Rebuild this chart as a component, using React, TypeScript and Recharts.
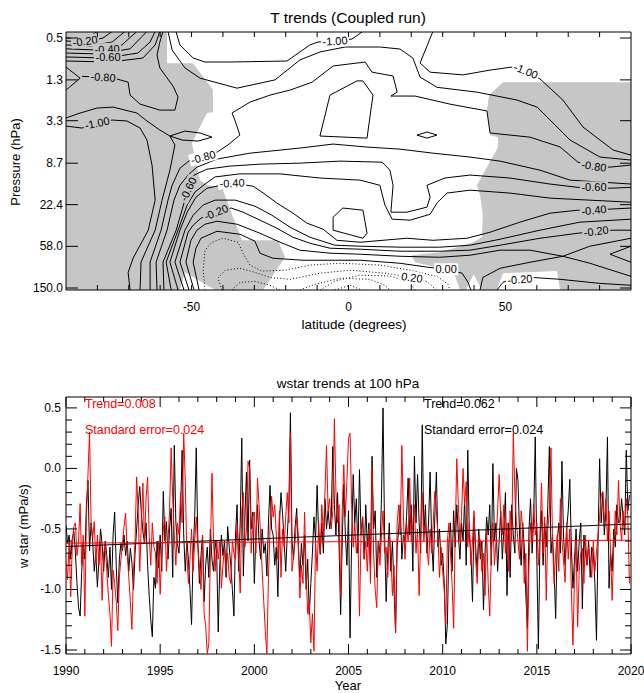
import React from 'react';
import { ComposedChart, Line, Area, Scatter, XAxis, YAxis, ReferenceArea } from 'recharts';

const FONT = '"Liberation Sans", Arial, Helvetica, sans-serif';
const GRAY = '#c6c6c6';
const WHITE = '#ffffff';
const RED = '#ff0000';

// ---------- top panel: T trends, latitude vs pressure ----------
const latTicks = [-80, -70, -60, -50, -40, -30, -20, -10, 0, 10, 20, 30, 40, 50, 60, 70, 80];
const latLabelled = [-50, 0, 50];
const pressureTicks = [0.5, 1.3, 3.3, 8.7, 22.4, 58.0, 150.0];
const P_TOP = 0.436;
const P_BOTTOM = 157;

// shaded (non significant) regions, [lat, hPa]
const grayLeft = [[-90,157],[-90,0.43],[-57.8,0.43],[-57.8,0.89],[-49.5,0.89],[-43.2,1.63],[-43.2,2.72],[-45.1,2.77],[-49.9,5.5],[-47.3,12.8],[-44.8,14.4],[-40.3,15.1],[-36.8,29.8],[-33.9,50.5],[-22.5,50.5],[-20.2,74.4],[-27.2,157],[-42.5,157],[-52.1,105],[-53.7,157]];
const grayRight = [[90,157],[90,1.37],[49.2,1.37],[44.8,1.84],[44.1,2.59],[45.1,4.59],[47.6,4.8],[47.6,6.03],[44.1,9.52],[40.9,14.4],[41.9,17.9],[42.8,28.5],[42.5,47.1],[39.7,52.8],[34.6,59.1],[29.1,66.3],[20.2,71],[21.2,83.4],[29.1,95.6],[33.9,112],[35.5,157],[37.4,157],[39.9,109.5],[42.5,157],[47.3,157],[49.2,107],[66.4,102],[67.4,157]];

// solid contours (negative and zero), [lat, hPa]
const arcA1 = [[-90,0.5],[-85.5,0.5],[-81.7,0.467],[-80.1,0.43]];
const arcA2 = [[-90,0.535],[-83.9,0.548],[-78.2,0.5],[-75.3,0.43]];
const arcA3 = [[-90,0.586],[-82.3,0.6],[-75.3,0.548],[-71.2,0.43]];
const arcA4 = [[-90,0.64],[-80.8,0.657],[-72.2,0.586],[-67.4,0.43]];
const arcA5 = [[-90,0.705],[-79.2,0.72],[-69.6,0.64],[-64.2,0.43]];
const arcA6 = [[-90,0.77],[-77.6,0.79],[-67.1,0.705],[-63.2,0.548],[-61.6,0.43]];
const arcA7 = [[-90,0.845],[-76,0.865],[-65.5,0.79],[-61.6,0.586],[-60.1,0.43]];
const wedge = [[-90,0.97],[-85.5,1.25],[-90,1.64]];
const loop080 = [[-84.9,1.2],[-78.2,1.22],[-74.7,1.25],[-70.2,1.37],[-69.6,1.84],[-66.4,2.26],[-60.1,2.59],[-55.3,2.59],[-54.3,1.92],[-55.9,1.5],[-60.1,0.99],[-61,0.737],[-60.1,0.548],[-59.1,0.43]];
const line100a = [[-90,3.1],[-85.5,2.77],[-80.1,2.47],[-75,2.42],[-67.4,2.77],[-64.2,3.32],[-60.1,4.08],[-56.9,4.68],[-55.3,5.74],[-56.9,10.2],[-59.4,20.2],[-61.6,40.1],[-66.1,83],[-66.4,157]];
const line100b = [[-90,3.73],[-84.9,3.9],[-80.1,3.48],[-75.3,3.25],[-70.6,3.32],[-66.4,3.9],[-64.2,5.13],[-62.6,9.07],[-61.6,20.2],[-63.8,40.1],[-68.6,75.7],[-70.2,105],[-69.6,157]];
const lens1 = [[-56.9,4.68],[-52.1,4.18],[-47.3,4.37],[-43.5,4.8],[-47.9,5.25],[-53,5.13],[-56.9,4.68]];
const line080 = [[-63.2,157],[-63.2,83],[-59.7,40.1],[-57.5,20.2],[-56.2,14.4],[-53.7,9.74],[-50.5,8.1],[-46.3,7.56],[-41.9,6.76],[-38.4,5.74],[-34.6,4.58],[-36.2,3.25],[-37.1,2.77],[-31.4,2.16],[-25,1.84],[-18.6,1.64],[-11.6,1.37],[-4.9,0.947],[5.3,0.865],[7.5,1.09],[14.2,1.19],[15.5,1.72],[13.5,1.88],[21.2,1.88],[32.3,2.26],[44.1,2.64],[45.1,4.37],[57.8,4.8],[67.4,6.0],[73.1,8.5],[78.2,9.3],[83.3,9.52],[90,9.07]];
const line070 = [[-61,157],[-61.3,83],[-57.8,40.1],[-55.6,20.2],[-53.7,14.4],[-51.1,11.4],[-48.3,9.52],[-41.9,7.92],[-31.4,6.92],[-15.5,6.16],[-4.9,5.62],[5.9,6.02],[16.4,6.31],[26.9,6.92],[38.7,7.56],[48.3,8.3],[61,10.2],[70.6,12.8],[90,14.0]];
const line060 = [[-58.8,157],[-59.1,83],[-54.9,40.1],[-52.4,21.6],[-51.1,15.7],[-49.2,11.4],[-45.1,9.97],[-37.8,9.3],[-28.2,8.89],[-15.5,8.69],[-2.7,8.3],[10.7,8.5],[13.2,10.2],[14.2,14.4],[13.5,26.6],[18.6,26.6],[25,23.7],[26,18.9],[25,14.4],[30.7,12.2],[38.7,11.4],[51.4,12.2],[64.2,14.0],[73.1,15.1],[78.2,15.1],[83.3,15.4],[90,15.1]];
const line050 = [[-56.5,157],[-58.1,83],[-54.3,40.1],[-51.4,22.6],[-48.9,16.8],[-45.7,14.0],[-42.5,11.9],[-34.6,11.1],[-21.8,11.1],[-9.1,12.2],[3.7,12.8],[10,14.4],[11.6,22.6],[13.9,31.2],[19.6,31.9],[26,27.9],[28.2,21.6],[31.4,17.2],[38.7,16.1],[51.4,17.2],[64.2,19.3],[90,21.2]];
const line040 = [[-54.3,157],[-56.9,83],[-53.7,40.1],[-51.4,26.6],[-48.6,18.9],[-45.1,15.4],[-37.1,13.7],[-30.4,14.7],[-27.6,16.8],[-22.8,21.6],[-17.7,27.2],[-13.2,34.2],[-8.1,39.2],[-3.7,50.5],[3.7,52.8],[11,50.5],[18.6,48.2],[26.9,50.5],[37.8,48.2],[45.1,42],[54.6,33.4],[64.2,27.2],[73.1,25.4],[78.2,25.4],[83.3,24.8],[90,24.2]];
const line030 = [[-52.4,157],[-55.3,83],[-52.1,40.1],[-49.5,28.5],[-46.3,22.6],[-42.5,20.2],[-36.1,20.2],[-29.8,23.2],[-24.4,28.5],[-18.6,37.5],[-12.3,47.1],[-4.3,56.5],[3.7,57.8],[16.4,59.1],[29.1,59.1],[38.7,56.5],[48.3,49.3],[61,40.1],[73.7,33.4],[90,31.2]];
const line020 = [[-50.8,157],[-53.7,83],[-51.1,42],[-49.5,35.8],[-47,30.5],[-42.2,26.6],[-37.4,24.2],[-33.6,26.6],[-28.2,31.9],[-22.8,38.4],[-17.7,47.1],[-12.3,54],[-5.9,60.5],[3.7,61.9],[16.4,64.8],[29.1,64.8],[38.7,63.3],[48.3,56.5],[61,48.2],[73.1,43],[78.9,41],[84.3,40.1],[90,40.1]];
const line010 = [[-49.2,157],[-51.8,83],[-50.2,50.5],[-48.3,40.1],[-45.7,35],[-41.9,32.7],[-35.5,35],[-28.2,43],[-21.8,52.8],[-15.5,63.3],[-5.9,67.8],[3.7,69.4],[16.4,72.7],[29.1,74.4],[38.7,71],[48.3,63.3],[57.8,63.3],[68.3,72.7],[76.9,85.3],[90,115]];
const line000 = [[-47.6,157],[-49.5,83],[-48.6,60.5],[-47,48.2],[-41.9,41.1],[-34.6,44],[-29.8,51.6],[-28.2,67.8],[-24.1,76.1],[-14.5,79.6],[3.7,79.6],[16.4,85.3],[25.3,93.4],[31.1,97.8],[36.2,107],[38.1,132],[39,157]];
const saddle = [[41.9,157],[42.8,118],[48.3,95.6],[57.8,83.4],[68.3,72.7],[76.9,57.8],[90,48.2]];
const loopRight = [[90,57.8],[83.3,69.4],[90,83.4]];
const lowRight = [[47.3,157],[49.2,132],[50.8,126],[54.6,123],[58.8,118],[67.4,123],[80.1,135],[90,141]];
const top100 = [[-55,0.43],[-53.7,0.586],[-49.5,0.789],[-45.7,0.865],[-37.8,0.865],[-19.6,0.845],[-12.3,0.586],[-9.7,0.548],[-4.3,0.535],[1.1,0.512],[4.6,0.43]];
const right100 = [[26.9,0.43],[22.8,0.885],[26,1.09],[36.5,1.16],[45.1,1.04],[52.1,0.97],[56.5,1.06],[61,1.27],[68.3,2.06],[74.7,3.81],[84.3,6.44],[90,7.24]];
const top090 = [[-57.5,0.43],[-56.2,0.657],[-52.1,0.99],[-47.3,1.25],[-35.5,1.57],[-23.4,1.3],[-15.5,0.826],[-9.1,0.688],[-1.1,0.614],[10,0.614],[16.4,0.643],[20.5,0.789],[22.8,1.22],[28.2,1.54],[40.9,1.72],[53.7,2.06],[60.1,2.42],[70.6,5.13],[80.1,7.56],[90,8.1]];
const boxInner = [[-5.9,1.84],[2.7,1.33],[4.6,1.33],[7.8,1.84],[5.9,4.91],[-9.1,4.68],[-5.9,1.84]];
const lens2 = [[21.8,4.58],[25,4.27],[28.2,4.58],[25,4.91],[21.8,4.58]];
const boxLow = [[-4.9,29.8],[-1.8,24.2],[4.6,25.4],[5.9,43],[4.6,48.2],[-4.9,40.1],[-4.9,29.8]];

// dotted contours (positive)
const dot010 = [[-45.7,157],[-46.3,100],[-45.7,63.3],[-43.5,52.8],[-40,48.2],[-35.2,52.8],[-33.6,67.8],[-31.4,88.9],[-27.6,102],[-20.2,100],[-12.3,88.9],[-2.7,85.3],[10,88.9],[19.6,100],[28.2,115],[31.7,138],[32.3,157]];
const dot020 = [[-40.3,157],[-41.6,120],[-39.3,100],[-34.6,95.6],[-29.8,105],[-25,118],[-18.6,123],[-9.1,107],[0.5,100],[11.6,107],[20.2,118],[25,129],[27.9,157]];
const dot025 = [[-9.1,157],[-4.3,128],[3.7,112],[13.2,114],[19.6,132],[21.2,157]];
const dot030 = [[-15.5,157],[-10.7,138],[-2.7,120],[6.8,123],[11.6,141],[13.2,157]];
const dot040 = [[-4.3,157],[0.5,141],[4.3,157]];
const dotBubble = [[-37.1,157],[-34.6,132],[-29.8,129],[-25,141],[-21.8,157]];

const solidContours = [arcA1, arcA2, arcA3, arcA4, arcA5, arcA6, arcA7, wedge, loop080, line100a, line100b, lens1,
  line080, line070, line060, line050, line040, line030, line020, line010, line000, saddle, loopRight, lowRight,
  top100, right100, top090, boxInner, lens2, boxLow];
const dottedContours = [dot010, dot020, dot025, dot030, dot040, dotBubble];

// contour labels: lat, hPa, text, rotation, background
const contourLabels = [
  { x: -83.9, y: 0.535, t: '-0.20', r: -8, bg: GRAY },
  { x: -76.9, y: 0.643, t: '-0.40', r: -3, bg: GRAY },
  { x: -76.6, y: 0.78, t: '-0.60', r: 0, bg: GRAY },
  { x: -78.2, y: 1.22, t: '-0.80', r: 4, bg: GRAY },
  { x: -80.1, y: 3.48, t: '-1.00', r: -12, bg: GRAY },
  { x: -4.3, y: 0.535, t: '-1.00', r: -4, bg: WHITE },
  { x: 56.5, y: 1.06, t: '-1.00', r: 22, bg: WHITE },
  { x: -46.3, y: 7.56, t: '-0.80', r: -15, bg: WHITE },
  { x: -51.1, y: 15.7, t: '-0.60', r: -65, bg: GRAY },
  { x: -37.1, y: 13.7, t: '-0.40', r: -3, bg: WHITE },
  { x: -42.2, y: 26.6, t: '-0.20', r: -22, bg: GRAY },
  { x: 78.2, y: 9.3, t: '-0.80', r: 8, bg: GRAY },
  { x: 78.2, y: 15.1, t: '-0.60', r: 0, bg: GRAY },
  { x: 78.2, y: 25.4, t: '-0.40', r: -6, bg: GRAY },
  { x: 78.9, y: 41.0, t: '-0.20', r: -8, bg: GRAY },
  { x: 31.1, y: 97.8, t: '0.00', r: 0, bg: WHITE },
  { x: 20.2, y: 118, t: '0.20', r: 8, bg: WHITE },
  { x: 54.6, y: 123, t: '-0.20', r: -4, bg: WHITE },
];

// ---------- bottom panel: w* at 100 hPa, monthly 1990-2019 ----------
const black1990s = [
  -0.47, -0.62, -0.55, -0.75, -0.58, -0.52, -0.70, -0.95, -1.15, -1.22, -0.85, -0.62,
  -0.75, -0.30, -0.10, -0.68, -0.45, -0.60, -0.85, -0.70, -0.98, -0.75, -0.50, -0.62,
  -0.85, -0.60, -0.72, -0.90, -0.65, -1.00, -0.55, -0.36, -0.80, -1.11, -0.75, -0.62,
  -0.68, -0.55, -0.72, -0.60, -0.85, -0.66, -0.78, -1.00, -0.70, -0.50, -0.30, -0.15,
  -0.36, -0.52, -0.62, -0.45, -0.80, -1.05, -1.25, -1.39, -0.90, -0.99, -0.60, -0.82,
  -0.55, -0.85, -0.19, -0.60, -0.44, -0.75, -0.50, -0.33, -0.90, 0.19, -0.45, -0.62,
  -0.70, -0.35, 0.15, -0.55, -0.85, -0.60, -0.75, -1.00, -1.29, -0.70, -0.40, 0.17,
  -0.60, -0.95, -0.72, -0.55, -1.10, -0.80, -0.65, -0.90, -0.50, -0.75, -0.85, -0.60,
  -0.70, -1.35, -0.80, -0.55, -0.72, -0.60, -0.90, -0.48, -0.65, -0.80, -1.00, -1.22,
  -0.55, -0.30, -0.85, -0.45, 0.25, -0.89, -0.40, -0.03, -0.60, 0.07, -0.50, -0.36,
];
const black2000s = [
  -0.95, -0.55, -0.30, -0.60, -0.75, -0.50, -0.70, -0.62, -0.89, -0.45, -0.14, -0.50,
  -0.55, -0.80, -0.65, -1.06, -0.45, -0.20, -0.38, -0.60, -0.85, -0.55, -0.30, 0.46,
  -0.60, -0.75, -0.48, -0.33, -0.65, -0.90, -0.62, -0.80, -0.55, -1.00, -0.75, -1.21,
  -0.95, -0.70, -0.40, -0.60, -0.14, -0.55, -0.71, -0.45, -0.70, -0.25, -0.50, -0.35,
  -0.50, -0.40, 0.18, -0.30, -0.55, -0.20, -0.65, -1.21, -0.60, -0.13, -0.55, -0.80,
  -0.35, -1.40, -0.60, -0.05, -0.45, -0.25, -0.70, -0.01, -0.55, -0.40, -0.75, -0.30,
  -0.65, -0.45, -0.80, 0.10, -0.50, -0.35, -0.90, -0.60, -0.70, -0.25, 0.50, -0.55,
  -1.10, -0.70, -0.45, -0.85, -0.60, -1.00, -1.35, -0.65, -0.50, -0.30, -0.75, -0.55,
  -0.60, -0.40, -0.08, -0.55, -0.30, -0.85, 0.10, -0.45, -0.05, -0.45, -0.70, 0.36,
  -0.55, -0.30, -0.70, -0.45, -0.03, -0.60, -0.85, -0.40, -0.03, -0.65, -0.50, -0.80,
];
const black2010s = [
  -0.70, -0.95, -1.45, -1.29, -0.60, -0.45, -0.85, -0.35, -0.65, -0.30, -0.55, -0.75,
  -0.45, -0.60, -0.25, -0.80, 0.15, -0.55, -0.70, -1.10, -0.40, -0.65, -0.85, -0.50,
  -0.75, -0.60, -1.17, -0.70, -0.40, -0.55, -0.30, -0.80, 0.04, -0.60, -0.45, -0.85,
  -0.60, -0.35, -0.75, -0.50, -0.20, -1.05, -0.45, -0.90, -0.30, -0.55, -0.70, 0.00,
  -0.10, -0.55, -0.80, -0.45, -0.65, -1.05, -1.32, -0.50, -0.25, -0.70, -0.40, 0.26,
  -0.75, -1.49, -0.60, -0.35, -0.80, -0.45, -0.65, -0.30, 0.18, -0.70, -0.55, -0.85,
  -1.24, -0.60, -0.45, -0.70, 0.06, -0.55, -0.80, -0.50, -0.35, -0.09, -0.65, -0.99,
  -0.75, -0.50, -0.85, -0.60, -0.45, -1.16, -0.55, -0.70, -0.80, -0.60, -0.90, -0.65,
  -0.70, -0.95, -1.42, -0.60, 0.08, -0.45, -0.20, -0.55, -0.35, 0.26, -0.99, -0.70,
  -0.85, -0.50, -0.65, -0.30, -0.45, -0.44, -0.25, -0.40, -0.55, 0.15, -0.35, -0.22,
];
const red1990s = [
  -0.78, -0.92, -0.60, -1.06, -0.65, -0.48, -0.45, -0.72, -0.60, -0.29, -0.80, -0.55,
  -1.22, -0.40, -0.05, 0.30, -0.45, -0.58, -0.44, -0.78, -0.55, -0.80, -0.60, -1.09,
  -0.70, -0.62, -0.85, -1.05, -1.20, -1.47, -0.84, -0.95, -1.10, -1.34, -0.90, -0.75,
  -0.62, -0.48, -0.37, -0.70, -0.90, -1.10, -1.33, -0.85, -0.60, -0.07, -0.35, -0.85,
  -0.45, -0.12, -0.62, -0.25, -0.07, -0.55, -0.80, -0.45, -0.65, -0.70, -0.95, -0.60,
  -1.04, -0.70, -0.50, -0.40, -0.85, -0.60, -0.35, 0.17, -0.25, -0.55, -0.80, -0.45,
  -0.55, -0.20, -0.45, 0.29, -0.10, -0.71, -0.95, -0.75, -0.50, -0.85, -0.60, -0.40,
  -0.65, -0.80, -1.00, -0.55, -1.20, -1.30, -1.53, -1.45, -0.70, -0.04, -0.60, -0.85,
  -0.60, -0.75, -0.60, -0.99, -0.80, -0.65, -0.85, -0.70, -0.90, -0.95, -0.60, -0.70,
  -0.75, -0.45, -0.70, -1.03, -0.35, -0.20, -0.65, -0.50, 0.06, 0.00, -0.70, -0.40,
];
const red2000s = [
  -0.36, -0.70, -0.08, -0.30, -0.55, -0.85, -1.10, -1.35, -1.53, -0.90, -0.50, -0.23,
  -0.40, -0.30, -0.55, -0.75, -0.35, -0.90, -0.50, -0.65, -0.40, -0.20, -0.45, 0.29,
  -0.85, -0.72, -0.60, -0.40, -0.55, -1.07, -0.80, -0.95, -0.36, -0.85, -1.20, -1.10,
  -1.44, -1.20, -1.51, -0.60, -0.85, -0.45, -0.70, -0.30, -0.55, -0.20, 0.19, -0.35,
  -0.25, -0.50, -0.35, 0.41, -0.20, -0.45, -0.30, -1.05, -0.35, 0.03, -0.40, -0.10,
  0.25, 0.29, -0.30, -0.65, -0.45, -0.70, -0.55, -1.22, -0.55, -0.40, -0.75, -0.60,
  -0.85, -0.50, -0.95, 0.00, -0.70, -1.00, -1.15, -0.60, -0.80, -0.55, -0.35, -0.70,
  -0.65, -0.90, -0.55, -0.70, -1.05, -0.80, -1.36, -0.45, -0.30, -0.55, 0.19, -0.40,
  -0.75, -0.45, -0.60, -0.08, -0.60, -0.45, -0.30, -0.70, -0.50, -1.05, -0.55, -0.20,
  -0.60, -0.45, -0.66, -0.80, -0.50, -0.70, -0.45, -0.19, -0.35, -0.55, -0.90, -0.65,
];
const red2010s = [
  -0.85, -1.00, -1.29, -0.60, -0.45, -0.70, -0.95, -1.32, -0.55, 0.08, -0.30, -0.60,
  -0.40, 0.00, -0.30, -0.11, -0.65, -0.45, -0.80, -0.60, -0.35, -0.75, -0.95, -0.55,
  -0.60, -0.85, -0.70, -1.05, -0.50, -0.95, -1.22, -0.70, -0.45, -0.80, -0.60, -0.35,
  -0.05, -0.40, -0.55, -0.30, -0.70, -0.45, -0.85, -0.35, -0.60, 0.29, -0.20, -0.45,
  -0.60, -0.75, -0.35, -0.50, -0.95, -0.70, -1.51, -0.80, -0.45, -0.60, -0.30, -0.55,
  -0.45, -0.80, -0.55, -0.12, -0.70, -0.40, -1.09, -0.50, -0.35, 0.17, -0.60, -0.95,
  -0.70, -0.55, -0.85, -0.25, -0.60, -0.75, -0.94, -0.45, -0.75, -0.50, -1.00, -1.46,
  -0.90, -0.60, -1.31, -0.85, -0.70, -0.66, -0.95, -0.55, -0.80, -0.65, -0.75, -0.90,
  -0.60, -0.85, -0.70, -0.55, -0.40, -0.22, -0.19, -0.45, -0.25, -0.60, -0.35, -0.70,
  -1.09, -0.65, -0.35, -0.55, -0.10, -0.45, -0.60, -0.35, -0.50, -0.25, -0.40, -0.95,
];
const FIRST_YEAR = 1990;
const trendStart = { black: -0.645, red: -0.617 }; // value at 1990
const trendPerDecade = { black: 0.062, red: 0.008 };
const yearTicks = Array.from({ length: 31 }, (_, i) => FIRST_YEAR + i);
const wTicks = Array.from({ length: 21 }, (_, i) => Math.round((-1.5 + i * 0.1) * 10) / 10);
const W_MIN = -1.533;
const W_MAX = 0.59;

const blackSeries = [...black1990s, ...black2000s, ...black2010s];
const redSeries = [...red1990s, ...red2000s, ...red2010s];
const wstarData = blackSeries.map((b, i) => ({ t: FIRST_YEAR + i / 12, b, r: redSeries[i] }));
const trendLine = (key: 'black' | 'red') => [
  { t: 1990, v: trendStart[key] },
  { t: 2020, v: trendStart[key] + 3 * trendPerDecade[key] },
];

const toXY = (pts: number[][]) => pts.map(([x, y]) => ({ x, y }));

const charW: Record<string, number> = { '-': 0.333, '.': 0.278 };
const textWidth = (s: string, size: number) => s.split('').reduce((w, c) => w + (charW[c] ?? 0.556), 0) * size;

const ContourLabel = (props: any) => {
  const { cx, cy, payload } = props;
  if (cx == null || cy == null) return <g />;
  const w = textWidth(payload.t, 11) + 3;
  return (
    <g transform={`translate(${cx},${cy}) rotate(${payload.r})`}>
      <rect x={-w / 2} y={-6} width={w} height={12} fill={payload.bg} />
      <text x={0} y={4} textAnchor="middle" fontSize={11} fontFamily={FONT} fill="#000">{payload.t}</text>
    </g>
  );
};

// axis ticks are drawn inward, IDL style
const LatTick = ({ x, y, payload }: any) => (
  <g>
    <line x1={x} x2={x} y1={y} y2={y - 5} stroke="#000" />
    {latLabelled.includes(payload.value) && (
      <text x={x} y={y + 21} textAnchor="middle" fontSize={12} fontFamily={FONT} fill="#000">{payload.value}</text>
    )}
  </g>
);
const LatTickTop = ({ x, y }: any) => <line x1={x} x2={x} y1={y} y2={y + 5} stroke="#000" />;
const PTick = ({ x, y, payload }: any) => (
  <g>
    <line x1={x} x2={x + 12} y1={y} y2={y} stroke="#000" />
    <text x={x - 3} y={y + 4} textAnchor="end" fontSize={12} fontFamily={FONT} fill="#000">{payload.value.toFixed(1)}</text>
  </g>
);
const PTickRight = ({ x, y }: any) => <line x1={x} x2={x - 11} y1={y} y2={y} stroke="#000" />;

const isFive = (v: number) => v % 5 === 0;
const isHalf = (v: number) => Math.abs(v * 2 - Math.round(v * 2)) < 1e-6;
const YearTick = ({ x, y, payload }: any) => (
  <g>
    <line x1={x} x2={x} y1={y} y2={y - (isFive(payload.value) ? 10 : 5)} stroke="#000" />
    {isFive(payload.value) && (
      <text x={x} y={y + 21} textAnchor="middle" fontSize={12} fontFamily={FONT} fill="#000">{payload.value}</text>
    )}
  </g>
);
const YearTickTop = ({ x, y, payload }: any) => (
  <line x1={x} x2={x} y1={y} y2={y + (isFive(payload.value) ? 10 : 5)} stroke="#000" />
);
const WTick = ({ x, y, payload }: any) => (
  <g>
    <line x1={x} x2={x + (isHalf(payload.value) ? 11 : 6)} y1={y} y2={y} stroke="#000" />
    {isHalf(payload.value) && (
      <text x={x - 5} y={y + 4} textAnchor="end" fontSize={12} fontFamily={FONT} fill="#000">{payload.value.toFixed(1)}</text>
    )}
  </g>
);
const WTickRight = ({ x, y, payload }: any) => (
  <line x1={x} x2={x - (isHalf(payload.value) ? 11 : 6)} y1={y} y2={y} stroke="#000" />
);

const Txt = ({ x, y, children, size = 12, color = '#000', rotate = 0, left = false }: any) => (
  <div
    style={{
      position: 'absolute', left: x, top: y, fontSize: size, fontFamily: FONT, color,
      whiteSpace: 'nowrap', lineHeight: 1,
      transform: `translate(${left ? '0' : '-50%'}, -50%) rotate(${rotate}deg)`,
    }}
  >
    {children}
  </div>
);

const axisBase = { axisLine: false, tickLine: false, tickSize: 0, tickMargin: 0, interval: 0 as const, allowDataOverflow: true };

const TopPanel = () => (
  <ComposedChart width={644} height={345} margin={{ top: 31, right: 12, bottom: 54, left: 65 }}>
    <XAxis {...axisBase} xAxisId={0} type="number" dataKey="x" domain={[-90, 90]} ticks={latTicks} height={1} tick={<LatTick />} />
    <XAxis {...axisBase} xAxisId="top" orientation="top" type="number" dataKey="x" domain={[-90, 90]} ticks={latTicks}
      height={1} tick={<LatTickTop />} />
    <YAxis {...axisBase} yAxisId={0} type="number" dataKey="y" scale="log" domain={[P_TOP, P_BOTTOM]} reversed
      ticks={pressureTicks} width={1} tick={<PTick />} />
    <YAxis {...axisBase} yAxisId="right" orientation="right" type="number" dataKey="y" scale="log" domain={[P_TOP, P_BOTTOM]}
      reversed ticks={pressureTicks} width={1} tick={<PTickRight />} />
    <Area data={toXY(grayLeft)} dataKey="y" baseValue={P_BOTTOM} type="linear" stroke="none" fill={GRAY} fillOpacity={1}
      isAnimationActive={false} dot={false} activeDot={false} legendType="none" />
    <Area data={toXY(grayRight)} dataKey="y" baseValue={P_BOTTOM} type="linear" stroke="none" fill={GRAY} fillOpacity={1}
      isAnimationActive={false} dot={false} activeDot={false} legendType="none" />
    {solidContours.map((c, i) => (
      <Line key={`s${i}`} data={toXY(c)} dataKey="y" type="linear" stroke="#000" strokeWidth={1} dot={false}
        activeDot={false} isAnimationActive={false} legendType="none" />
    ))}
    {dottedContours.map((c, i) => (
      <Line key={`d${i}`} data={toXY(c)} dataKey="y" type="linear" stroke="#000" strokeWidth={1} strokeDasharray="1 2.2"
        dot={false} activeDot={false} isAnimationActive={false} legendType="none" />
    ))}
    <Scatter data={contourLabels} shape={<ContourLabel />} isAnimationActive={false} legendType="none" />
    <ReferenceArea x1={-90} x2={90} y1={P_TOP} y2={P_BOTTOM} fill="none" stroke="#000" strokeWidth={1} ifOverflow="visible" />
  </ComposedChart>
);

const BottomPanel = () => (
  <ComposedChart width={644} height={333} data={wstarData} margin={{ top: 36, right: 12, bottom: 38, left: 65 }}>
    <XAxis {...axisBase} xAxisId={0} type="number" dataKey="t" domain={[1990, 2020]} ticks={yearTicks} height={1}
      tick={<YearTick />} />
    <XAxis {...axisBase} xAxisId="top" orientation="top" type="number" dataKey="t" domain={[1990, 2020]} ticks={yearTicks}
      height={1} tick={<YearTickTop />} />
    <YAxis {...axisBase} yAxisId={0} type="number" domain={[W_MIN, W_MAX]} ticks={wTicks} width={1} tick={<WTick />} />
    <YAxis {...axisBase} yAxisId="right" orientation="right" type="number" domain={[W_MIN, W_MAX]} ticks={wTicks} width={1}
      tick={<WTickRight />} />
    <Line dataKey="b" type="linear" stroke="#000" strokeWidth={1} dot={false} activeDot={false} isAnimationActive={false} />
    <Line dataKey="r" type="linear" stroke={RED} strokeWidth={1} dot={false} activeDot={false} isAnimationActive={false} />
    <Line data={trendLine('black')} dataKey="v" type="linear" stroke="#000" strokeWidth={1} dot={false} activeDot={false}
      isAnimationActive={false} />
    <Line data={trendLine('red')} dataKey="v" type="linear" stroke={RED} strokeWidth={1} dot={false} activeDot={false}
      isAnimationActive={false} />
    <ReferenceArea x1={1990} x2={2020} y1={W_MIN} y2={W_MAX} fill="none" stroke="#000" strokeWidth={1} ifOverflow="visible" />
  </ComposedChart>
);

export default function App() {
  return (
    <div style={{ position: 'absolute', left: 0, top: 0, width: 644, height: 693, background: '#fff', overflow: 'hidden' }}>
      <div style={{ position: 'absolute', left: 0, top: 0 }}>
        <TopPanel />
      </div>
      <div style={{ position: 'absolute', left: 0, top: 360 }}>
        <BottomPanel />
      </div>
      <Txt x={348} y={18} size={15.5}>T trends (Coupled run)</Txt>
      <Txt x={354} y={325} size={13.5}>latitude (degrees)</Txt>
      <Txt x={15} y={162} size={13} rotate={-90}>Pressure (hPa)</Txt>
      <Txt x={348} y={384} size={13.5}>wstar trends at 100 hPa</Txt>
      <Txt x={23} y={526} size={13} rotate={-90}>w star (mPa/s)</Txt>
      <Txt x={348} y={685} size={13}>Year</Txt>
      <Txt x={85} y={404} size={12.5} color={RED} left>Trend=0.008</Txt>
      <Txt x={85} y={430} size={12.5} color={RED} left>Standard error=0.024</Txt>
      <Txt x={424} y={404} size={12.5} left>Trend=0.062</Txt>
      <Txt x={424} y={430} size={12.5} left>Standard error=0.024</Txt>
    </div>
  );
}
